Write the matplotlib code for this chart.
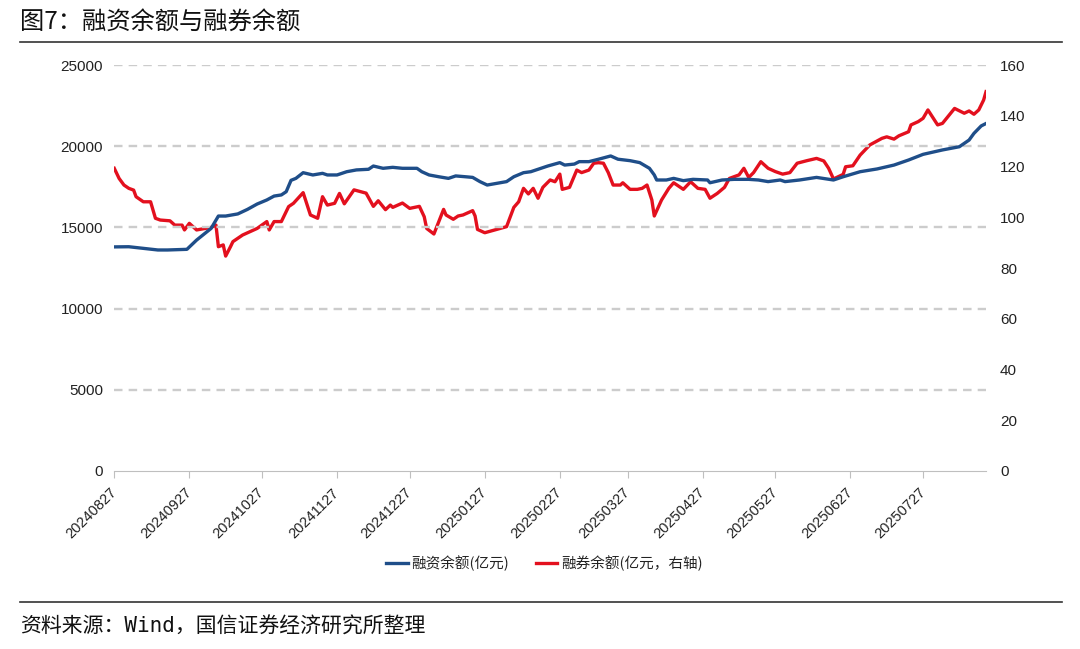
import matplotlib
matplotlib.use("Agg")
import matplotlib.pyplot as plt
import matplotlib.dates as mdates
from matplotlib.lines import Line2D
import pandas as pd

# 融资余额 (亿元, left axis)
fin_dates = ["20240827", "20240902", "20240908", "20240914", "20240918", "20240926",
             "20240930", "20241006", "20241009", "20241012", "20241017", "20241021",
             "20241025", "20241029", "20241101", "20241104", "20241106", "20241108",
             "20241110", "20241113", "20241117", "20241121", "20241123", "20241127",
             "20241201", "20241205", "20241210", "20241212", "20241216", "20241220",
             "20241224", "20241230", "20250101", "20250104", "20250108", "20250112",
             "20250115", "20250119", "20250122", "20250125", "20250128", "20250205",
             "20250208", "20250212", "20250215", "20250218", "20250222", "20250227",
             "20250301", "20250305", "20250307", "20250311", "20250315", "20250320",
             "20250323", "20250328", "20250401", "20250405", "20250407", "20250408",
             "20250412", "20250415", "20250419", "20250423", "20250429", "20250430",
             "20250505", "20250510", "20250516", "20250520", "20250524", "20250529",
             "20250531", "20250606", "20250613", "20250620", "20250624", "20250701",
             "20250708", "20250715", "20250721", "20250727", "20250804", "20250811",
             "20250815", "20250817", "20250820", "20250822"]
fin_values = [13800, 13810, 13710, 13610, 13610, 13650,
              14220, 14940, 15700, 15700, 15830, 16110,
              16440, 16690, 16930, 17000, 17200, 17900,
              18020, 18370, 18230, 18330, 18230, 18230,
              18430, 18540, 18580, 18780, 18640, 18700,
              18640, 18640, 18430, 18230, 18120, 18020,
              18170, 18120, 18080, 17820, 17610, 17820,
              18120, 18370, 18430, 18580, 18780, 18990,
              18840, 18900, 19050, 19050, 19200, 19400,
              19200, 19110, 18990, 18640, 18230, 17920,
              17920, 18020, 17880, 17960, 17920, 17750,
              17920, 17960, 17960, 17920, 17820, 17920,
              17820, 17920, 18080, 17920, 18120, 18430,
              18600, 18840, 19150, 19500, 19770, 19970,
              20380, 20790, 21250, 21400]

# 融券余额 (亿元, right axis)
sec_dates = ["20240827", "20240829", "20240831", "20240902", "20240904", "20240905",
             "20240908", "20240911", "20240913", "20240915", "20240919", "20240921",
             "20240924", "20240925", "20240927", "20240930", "20241006", "20241008",
             "20241009", "20241011", "20241012", "20241014", "20241015", "20241019",
             "20241022", "20241025", "20241029", "20241030", "20241101", "20241104",
             "20241107", "20241109", "20241113", "20241116", "20241119", "20241121",
             "20241123", "20241126", "20241128", "20241130", "20241204", "20241209",
             "20241212", "20241214", "20241217", "20241219", "20241220", "20241224",
             "20241227", "20241231", "20250102", "20250103", "20250106", "20250110",
             "20250111", "20250114", "20250116", "20250118", "20250122", "20250123",
             "20250124", "20250127", "20250205", "20250208", "20250210", "20250212",
             "20250214", "20250216", "20250218", "20250220", "20250223", "20250225",
             "20250227", "20250228", "20250303", "20250306", "20250308", "20250311",
             "20250313", "20250315", "20250317", "20250319", "20250321", "20250324",
             "20250325", "20250328", "20250331", "20250402", "20250404", "20250406",
             "20250407", "20250410", "20250413", "20250415", "20250419", "20250422",
             "20250425", "20250428", "20250430", "20250503", "20250506", "20250508",
             "20250512", "20250514", "20250516", "20250518", "20250521", "20250524",
             "20250527", "20250530", "20250602", "20250605", "20250609", "20250613",
             "20250616", "20250618", "20250620", "20250624", "20250625", "20250628",
             "20250701", "20250705", "20250710", "20250712", "20250715", "20250717",
             "20250721", "20250722", "20250725", "20250727", "20250729", "20250802",
             "20250804", "20250809", "20250813", "20250815", "20250817", "20250819",
             "20250821", "20250822"]
sec_values = [119.3, 115.3, 112.7, 111.4, 110.7, 108.1,
              106.1, 106.1, 99.6, 98.9, 98.6, 96.9,
              96.9, 95.0, 97.6, 95.0, 96.0, 96.9,
              88.4, 89.1, 84.7, 88.4, 90.4, 93.0,
              94.3, 95.6, 98.3, 95.0, 98.3, 98.3,
              104.2, 105.5, 109.7, 100.9, 99.6, 108.1,
              104.8, 105.5, 109.4, 105.3, 110.8, 109.5,
              104.3, 106.5, 103.0, 104.8, 103.9, 105.6,
              103.5, 104.3, 100.2, 95.6, 93.4, 103.1,
              100.9, 99.2, 100.5, 100.9, 102.6, 100.5,
              95.2, 93.9, 96.3, 103.9, 106.1, 111.4,
              109.2, 111.4, 107.5, 111.8, 114.7, 114.0,
              117.0, 111.0, 111.8, 118.6, 117.6, 118.6,
              121.3, 121.5, 121.3, 117.6, 112.7, 112.7,
              113.6, 111.0, 111.0, 111.4, 112.7, 106.8,
              100.5, 106.8, 111.4, 113.6, 111.0, 114.0,
              111.4, 111.0, 107.5, 109.4, 111.8, 115.3,
              116.7, 119.3, 115.7, 117.6, 121.9, 119.3,
              118.0, 117.0, 117.6, 121.3, 122.3, 123.2,
              122.2, 119.3, 115.1, 116.9, 119.9, 120.3,
              124.5, 128.5, 131.1, 131.7, 130.8, 132.1,
              133.7, 136.4, 137.7, 139.0, 142.3, 136.4,
              137.0, 142.9, 141.0, 141.9, 140.6, 142.3,
              146.2, 149.5]

tick_dates = ["20240827", "20240927", "20241027", "20241127", "20241227", "20250127",
              "20250227", "20250327", "20250427", "20250527", "20250627", "20250727"]

cjk = ["Noto Sans CJK SC", "DejaVu Sans"]
plt.rcParams["font.family"] = ["Liberation Sans", "Noto Sans CJK SC", "DejaVu Sans"]

fin_x = pd.to_datetime(fin_dates, format="%Y%m%d")
sec_x = pd.to_datetime(sec_dates, format="%Y%m%d")
ticks_x = pd.to_datetime(tick_dates, format="%Y%m%d")

fig = plt.figure(figsize=(10.8, 6.49), dpi=100)
ax = fig.add_axes([0.1058, 0.2743, 0.8072, 0.6255])
ax2 = ax.twinx()

for v in range(5000, 25001, 5000):
    ax.axhline(v, color="#cccccc", lw=1.7, ls=(0, (3.6, 2.6)), zorder=0)

l1, = ax.plot(fin_x, fin_values, color="#1f4e89", lw=2.4, label="融资余额(亿元)")
l2, = ax2.plot(sec_x, sec_values, color="#e3101e", lw=2.4, label="融券余额(亿元，右轴)")
ax.set_zorder(ax2.get_zorder() + 1)
ax.patch.set_visible(False)

ax.set_xlim(fin_x[0], fin_x[-1])
ax.set_ylim(0, 25000)
ax2.set_ylim(0, 160)
ax.set_yticks(range(0, 25001, 5000))
ax2.set_yticks(range(0, 161, 20))
ax.set_xticks(ticks_x)
ax.xaxis.set_major_formatter(mdates.DateFormatter("%Y%m%d"))

for a in (ax, ax2):
    for s in ("top", "left", "right"):
        a.spines[s].set_visible(False)
    a.spines["bottom"].set_color("#bfbfbf")
ax2.spines["bottom"].set_visible(False)

ax.tick_params(axis="x", length=5, color="#bfbfbf", labelsize=10.5, pad=9, labelcolor="#222222")
ax.tick_params(axis="y", length=0, labelsize=11, pad=8, labelcolor="#222222")
ax2.tick_params(axis="y", length=0, labelsize=11, pad=10, labelcolor="#222222")
for lab in ax.get_xticklabels():
    lab.set_rotation(45)
    lab.set_ha("right")
    lab.set_va("center")
    lab.set_rotation_mode("anchor")

leg = fig.legend([l1, l2], [l1.get_label(), l2.get_label()], loc="center",
                 bbox_to_anchor=(0.504, 0.1325), ncol=2, frameon=False,
                 prop={"family": cjk, "size": 10.5}, handlelength=1.5,
                 handletextpad=0.25, columnspacing=1.8)
for t in leg.get_texts():
    t.set_color("#222222")

fig.text(0.0185, 1 - 22 / 649, "图7：融资余额与融券余额", fontsize=17.5, va="center",
         family=cjk, color="#111111")
fig.add_artist(Line2D([0.0185, 0.983], [1 - 42 / 649] * 2, color="#333333", lw=1.2))
fig.add_artist(Line2D([0.0185, 0.983], [1 - 602 / 649] * 2, color="#333333", lw=1.2))
fig.text(0.0185, 1 - 627 / 649, "资料来源：Wind，国信证券经济研究所整理", fontsize=15,
         va="center", family=["DejaVu Sans Mono", "Noto Sans CJK SC"], color="#111111")

fig.savefig("out.png", dpi=100)
